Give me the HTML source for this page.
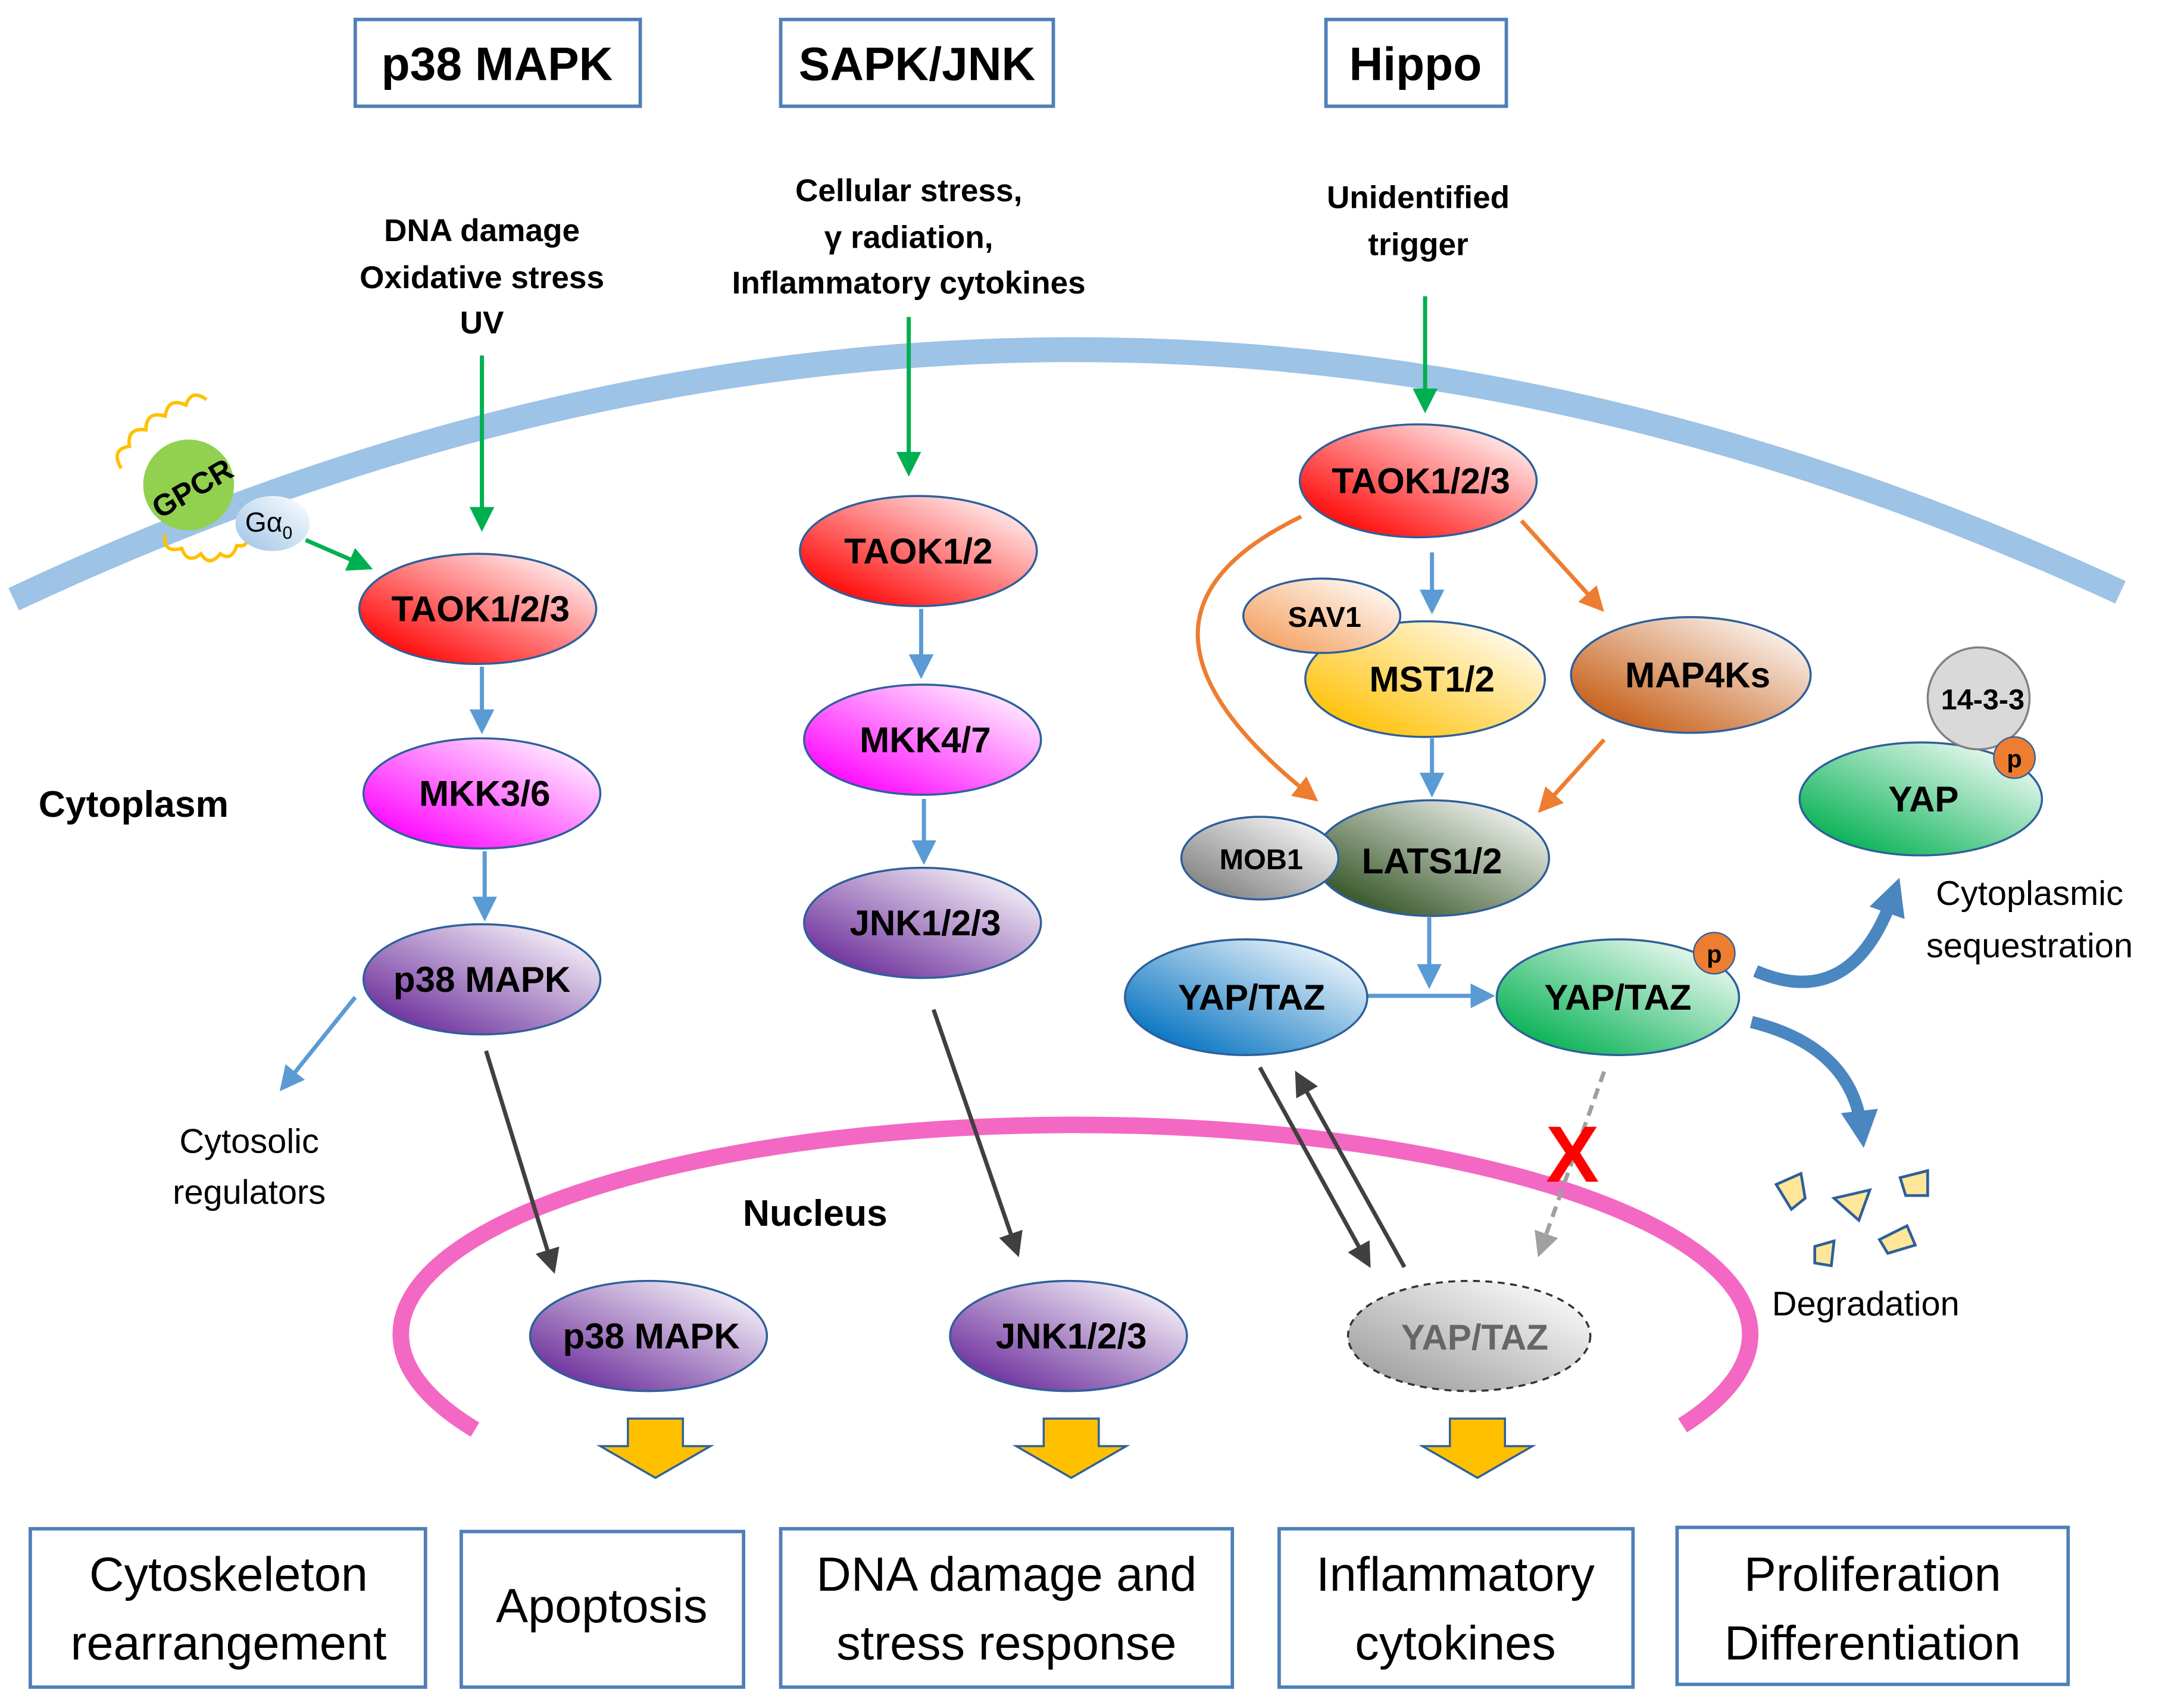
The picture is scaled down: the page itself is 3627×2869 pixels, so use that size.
<!DOCTYPE html>
<html><head><meta charset="utf-8"><style>html,body{margin:0;padding:0;background:#fff}svg{display:block}</style></head>
<body>
<svg width="3627" height="2869" viewBox="0 0 1568 1240" xmlns="http://www.w3.org/2000/svg" font-family="Liberation Sans, DejaVu Sans, sans-serif">
<defs>
<linearGradient id="gR" x1="0" y1="1" x2="1" y2="0"><stop offset="0.1" stop-color="#ff0000"/><stop offset="0.95" stop-color="#fff"/></linearGradient>
<linearGradient id="gM" x1="0" y1="1" x2="1" y2="0"><stop offset="0.1" stop-color="#ff00ff"/><stop offset="0.95" stop-color="#fff"/></linearGradient>
<linearGradient id="gP" x1="0" y1="1" x2="1" y2="0"><stop offset="0.1" stop-color="#6a2c9a"/><stop offset="0.95" stop-color="#fff"/></linearGradient>
<linearGradient id="gY" x1="0" y1="1" x2="1" y2="0"><stop offset="0.1" stop-color="#ffc000"/><stop offset="0.95" stop-color="#fff"/></linearGradient>
<linearGradient id="gB" x1="0" y1="1" x2="1" y2="0"><stop offset="0.1" stop-color="#c55a11"/><stop offset="0.95" stop-color="#fff"/></linearGradient>
<linearGradient id="gS" x1="0" y1="1" x2="1" y2="0"><stop offset="0.1" stop-color="#f4a060"/><stop offset="0.95" stop-color="#fff"/></linearGradient>
<linearGradient id="gD" x1="0" y1="1" x2="1" y2="0"><stop offset="0.1" stop-color="#2f5020"/><stop offset="0.95" stop-color="#fff"/></linearGradient>
<linearGradient id="gG" x1="0" y1="1" x2="1" y2="0"><stop offset="0.1" stop-color="#808080"/><stop offset="0.95" stop-color="#fff"/></linearGradient>
<linearGradient id="gBl" x1="0" y1="1" x2="1" y2="0"><stop offset="0.1" stop-color="#0070c0"/><stop offset="0.95" stop-color="#fff"/></linearGradient>
<linearGradient id="gGr" x1="0" y1="1" x2="1" y2="0"><stop offset="0.1" stop-color="#00b050"/><stop offset="0.95" stop-color="#fff"/></linearGradient>
<linearGradient id="gN" x1="0" y1="1" x2="1" y2="0"><stop offset="0.1" stop-color="#a0a0a0"/><stop offset="0.95" stop-color="#fff"/></linearGradient>
<linearGradient id="gA" x1="0" y1="1" x2="1" y2="0"><stop offset="0" stop-color="#9dc3e6"/><stop offset="1" stop-color="#fff"/></linearGradient>
<marker id="aG" markerWidth="6" markerHeight="6" refX="5" refY="3" orient="auto" markerUnits="strokeWidth"><path d="M0,0 L6,3 L0,6z" fill="#00b050"/></marker>
<marker id="aB" markerWidth="6" markerHeight="6" refX="5" refY="3" orient="auto" markerUnits="strokeWidth"><path d="M0,0 L6,3 L0,6z" fill="#5b9bd5"/></marker>
<marker id="aO" markerWidth="6" markerHeight="6" refX="5" refY="3" orient="auto" markerUnits="strokeWidth"><path d="M0,0 L6,3 L0,6z" fill="#ed7d31"/></marker>
<marker id="aK" markerWidth="6" markerHeight="6" refX="5" refY="3" orient="auto" markerUnits="strokeWidth"><path d="M0,0 L6,3 L0,6z" fill="#404040"/></marker>
<marker id="aL" markerWidth="6" markerHeight="6" refX="5" refY="3" orient="auto" markerUnits="strokeWidth"><path d="M0,0 L6,3 L0,6z" fill="#a0a0a0"/></marker>
<marker id="aBB" markerWidth="3" markerHeight="3" refX="1.5" refY="1.5" orient="auto" markerUnits="strokeWidth"><path d="M0,0 L3,1.5 L0,3z" fill="#4a86c0"/></marker>
</defs>

<g fill="none" stroke="#4f7fb8" stroke-width="2.5">
<rect x="258" y="14" width="207" height="63"/><rect x="567" y="14" width="198" height="63"/><rect x="963" y="14" width="131" height="63"/>
</g>
<g font-weight="bold" font-size="34" text-anchor="middle" fill="#000">
<text x="361" y="58">p38 MAPK</text><text x="666" y="58">SAPK/JNK</text><text x="1028" y="58">Hippo</text>
</g>

<path d="M10,435 Q775,75 1540,430" fill="none" stroke="#9dc3e6" stroke-width="18"/>
<path d="M345,1038 A 490 152 0 1 1 1222,1035" fill="none" stroke="#f368c3" stroke-width="12"/>

<g font-weight="bold" font-size="23" text-anchor="middle">
<text x="350" y="175">DNA damage</text><text x="350" y="209">Oxidative stress</text><text x="350" y="242">UV</text>
<text x="660" y="146">Cellular stress,</text><text x="660" y="180">γ radiation,</text><text x="660" y="213">Inflammatory cytokines</text>
<text x="1030" y="151">Unidentified</text><text x="1030" y="185">trigger</text>
</g>
<g stroke="#00b050" stroke-width="3" fill="none" marker-end="url(#aG)">
<line x1="350" y1="258" x2="350" y2="383"/><line x1="660" y1="230" x2="660" y2="343"/><line x1="1035" y1="215" x2="1035" y2="297"/>
<line x1="222" y1="392" x2="268" y2="412"/>
</g>

<g fill="none" stroke="#ffc000" stroke-width="2.5">
<path d="M88,340 q-8,-14 6,-16 q-2,-14 12,-12 q0,-14 14,-10 q2,-14 15,-8 q4,-12 15,-4"/>
<path d="M120,388 q-2,14 12,10 q4,12 14,4 q6,10 14,0 q8,6 12,-6 q10,2 8,-12"/>
</g>
<circle cx="137" cy="352" r="33" fill="#92d050"/>
<text x="140" y="362" font-weight="bold" font-size="22" text-anchor="middle" transform="rotate(-30 140 355)">GPCR</text>
<ellipse cx="198" cy="380" rx="27" ry="20" fill="url(#gA)"/>
<text x="178" y="386" font-size="20">Gα<tspan font-size="13" dy="5">0</tspan></text>

<text x="97" y="593" font-weight="bold" font-size="27" text-anchor="middle">Cytoplasm</text>
<text x="592" y="890" font-weight="bold" font-size="27" text-anchor="middle">Nucleus</text>
<g font-size="25" text-anchor="middle">
<text x="181" y="837">Cytosolic</text><text x="181" y="874">regulators</text>
<text x="1474" y="657">Cytoplasmic</text><text x="1474" y="695">sequestration</text>
<text x="1355" y="955">Degradation</text>
</g>

<g stroke="#5b9bd5" stroke-width="3" fill="none" marker-end="url(#aB)">
<line x1="350" y1="484" x2="350" y2="530"/><line x1="352" y1="618" x2="352" y2="666"/>
<line x1="258" y1="724" x2="205" y2="790"/>
<line x1="669" y1="442" x2="669" y2="490"/><line x1="671" y1="580" x2="671" y2="625"/>
<line x1="1040" y1="401" x2="1040" y2="443"/><line x1="1040" y1="536" x2="1040" y2="576"/>
<line x1="1038" y1="666" x2="1038" y2="715"/><line x1="993" y1="723" x2="1083" y2="723"/>
</g>
<g stroke="#ed7d31" stroke-width="3" fill="none" marker-end="url(#aO)">
<path d="M945,375 Q790,450 955,580"/><line x1="1105" y1="378" x2="1163" y2="442"/><line x1="1165" y1="537" x2="1119" y2="588"/>
</g>
<g stroke="#404040" stroke-width="3" fill="none" marker-end="url(#aK)">
<line x1="353" y1="763" x2="402" y2="922"/><line x1="678" y1="733" x2="739" y2="910"/>
<line x1="915" y1="775" x2="994" y2="918"/><line x1="1020" y1="920" x2="942" y2="780"/>
</g>
<line x1="1165" y1="778" x2="1118" y2="910" stroke="#a0a0a0" stroke-width="3" stroke-dasharray="8,5" marker-end="url(#aL)"/>
<text x="1142" y="858" font-size="58" font-weight="bold" fill="#ff0000" text-anchor="middle">X</text>

<g stroke="#4a86c0" stroke-width="9" fill="none" marker-end="url(#aBB)">
<path d="M1275,705 Q1345,735 1375,650"/><path d="M1272,742 Q1345,760 1352,820"/>
</g>

<g stroke="#2e5f9a" stroke-width="1.5">
<ellipse cx="347" cy="442" rx="86" ry="40" fill="url(#gR)"/>
<ellipse cx="350" cy="576" rx="86" ry="40" fill="url(#gM)"/>
<ellipse cx="350" cy="711" rx="86" ry="40" fill="url(#gP)"/>
<ellipse cx="471" cy="970" rx="86" ry="40" fill="url(#gP)"/>
<ellipse cx="667" cy="400" rx="86" ry="40" fill="url(#gR)"/>
<ellipse cx="670" cy="537" rx="86" ry="40" fill="url(#gM)"/>
<ellipse cx="670" cy="670" rx="86" ry="40" fill="url(#gP)"/>
<ellipse cx="776" cy="970" rx="86" ry="40" fill="url(#gP)"/>
<ellipse cx="1030" cy="349" rx="86" ry="41" fill="url(#gR)"/>
<ellipse cx="1035" cy="493" rx="87" ry="42" fill="url(#gY)"/>
<ellipse cx="960" cy="447" rx="57" ry="27" fill="url(#gS)"/>
<ellipse cx="1228" cy="490" rx="87" ry="42" fill="url(#gB)"/>
<ellipse cx="1040" cy="623" rx="85" ry="42" fill="url(#gD)"/>
<ellipse cx="915" cy="623" rx="57" ry="30" fill="url(#gG)"/>
<ellipse cx="905" cy="724" rx="88" ry="42" fill="url(#gBl)"/>
<ellipse cx="1175" cy="724" rx="88" ry="42" fill="url(#gGr)"/>
<ellipse cx="1395" cy="580" rx="88" ry="41" fill="url(#gGr)"/>
<circle cx="1437" cy="507" r="37" fill="#d9d9d9" stroke="#808080"/>
</g>
<ellipse cx="1067" cy="970" rx="88" ry="40" fill="url(#gN)" stroke="#333" stroke-width="1.5" stroke-dasharray="5,4"/>
<circle cx="1245" cy="692" r="15" fill="#ed7d31" stroke="#2e5f9a"/>
<circle cx="1463" cy="550" r="15" fill="#ed7d31" stroke="#2e5f9a"/>

<g font-weight="bold" font-size="26" text-anchor="middle">
<text x="349" y="451">TAOK1/2/3</text><text x="352" y="585">MKK3/6</text><text x="350" y="720">p38 MAPK</text><text x="473" y="979">p38 MAPK</text>
<text x="667" y="409">TAOK1/2</text><text x="672" y="546">MKK4/7</text><text x="672" y="679">JNK1/2/3</text><text x="778" y="979">JNK1/2/3</text>
<text x="1032" y="358">TAOK1/2/3</text><text x="1040" y="502">MST1/2</text><text x="1233" y="499">MAP4Ks</text>
<text x="1040" y="634">LATS1/2</text><text x="909" y="733">YAP/TAZ</text><text x="1175" y="733">YAP/TAZ</text>
<text x="1397" y="589">YAP</text><text x="1071" y="980" fill="#666">YAP/TAZ</text>
</g>
<g font-weight="bold" font-size="21" text-anchor="middle">
<text x="962" y="455">SAV1</text><text x="916" y="631">MOB1</text><text x="1440" y="515">14-3-3</text>
<text x="1245" y="699" font-size="18">p</text><text x="1463" y="557" font-size="18">p</text>
</g>

<g fill="#ffe699" stroke="#2e5f9a" stroke-width="2">
<path d="M1290,860 l18,-8 l3,18 l-10,8z"/><path d="M1332,870 l26,-6 l-8,22 z"/><path d="M1380,855 l20,-5 l0,18 l-16,0z"/>
<path d="M1365,900 l20,-10 l6,14 l-20,6z"/><path d="M1318,905 l14,-4 l-2,18 l-12,-2z"/>
</g>

<g fill="#ffc000" stroke="#2e5f9a" stroke-width="1.5">
<path d="M456,1030 h40 v20 h20 l-40,23 l-40,-23 h20z"/>
<path d="M758,1030 h40 v20 h20 l-40,23 l-40,-23 h20z"/>
<path d="M1053,1030 h40 v20 h20 l-40,23 l-40,-23 h20z"/>
</g>

<g fill="none" stroke="#4f7fb8" stroke-width="2.5">
<rect x="22" y="1110" width="287" height="115"/><rect x="335" y="1112" width="205" height="113"/><rect x="567" y="1110" width="328" height="115"/>
<rect x="929" y="1110" width="257" height="115"/><rect x="1218" y="1109" width="284" height="114"/>
</g>
<g font-size="35" text-anchor="middle">
<text x="166" y="1155">Cytoskeleton</text><text x="166" y="1205">rearrangement</text>
<text x="437" y="1178">Apoptosis</text>
<text x="731" y="1155">DNA damage and</text><text x="731" y="1205">stress response</text>
<text x="1057" y="1155">Inflammatory</text><text x="1057" y="1205">cytokines</text>
<text x="1360" y="1155">Proliferation</text><text x="1360" y="1205">Differentiation</text>
</g>
</svg>
</body></html>
